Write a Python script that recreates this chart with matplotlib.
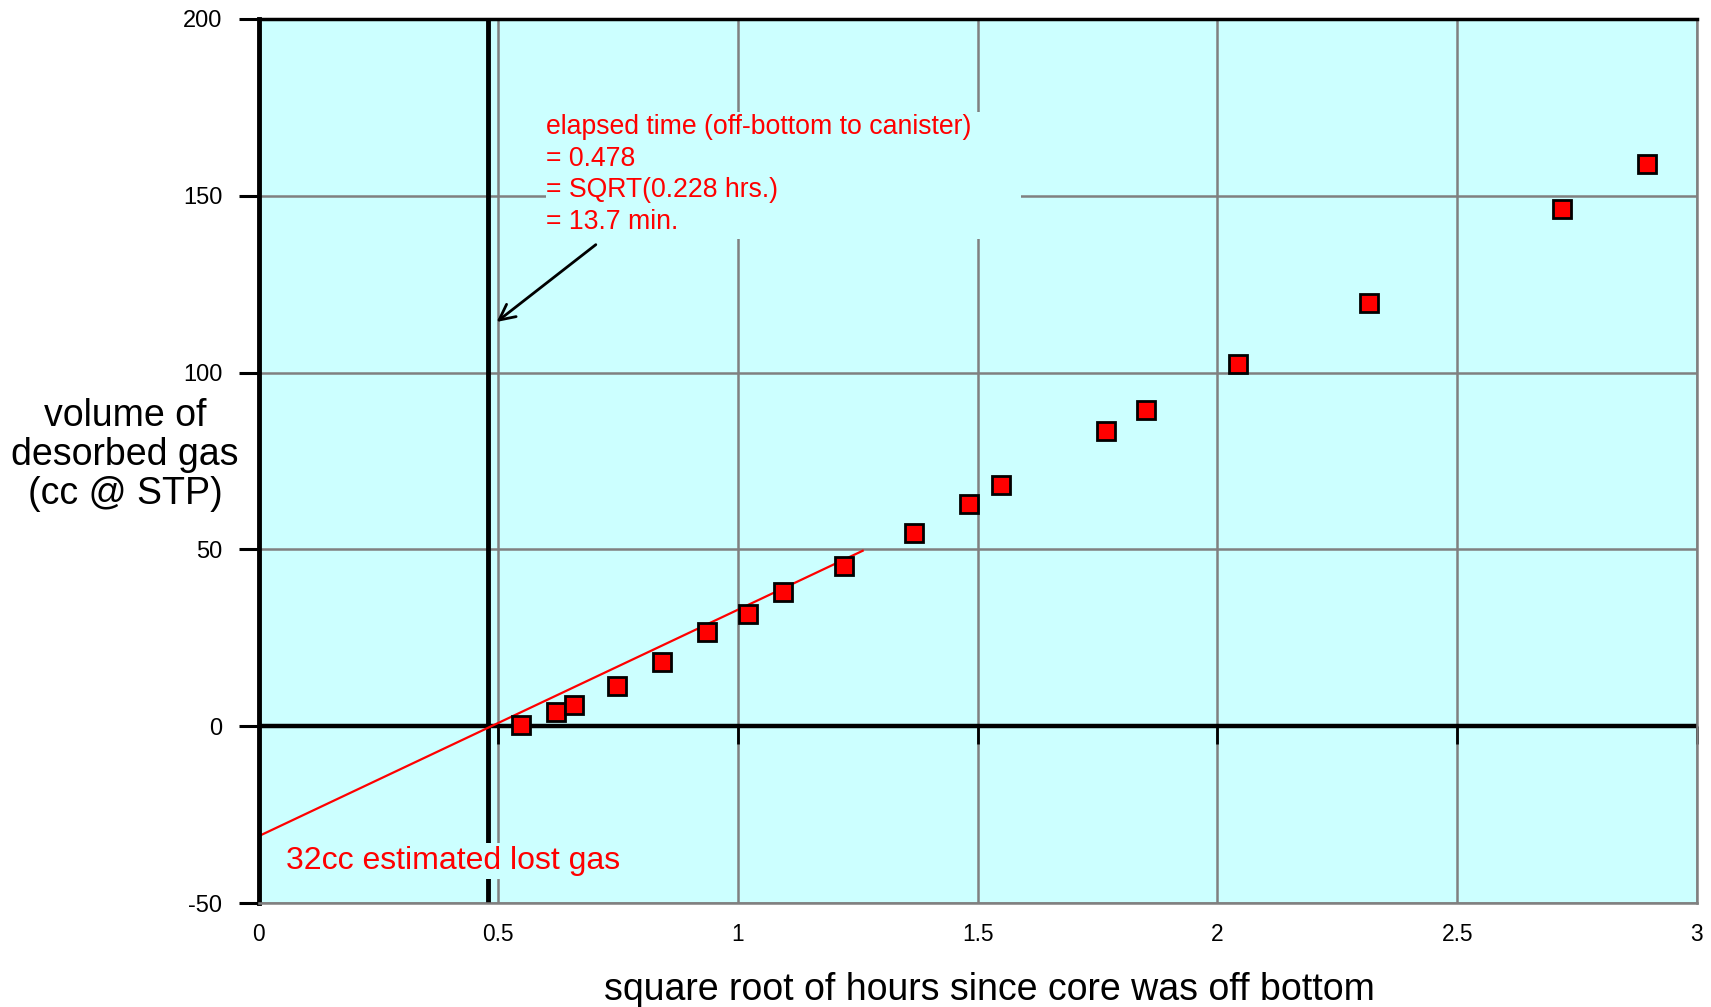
import matplotlib
matplotlib.use("Agg")
import matplotlib.pyplot as plt
from matplotlib.patches import Rectangle

# ---- data ----
sqrt_hours = [0.547, 0.620, 0.658, 0.747, 0.841, 0.936, 1.020, 1.093, 1.221,
              1.367, 1.481, 1.549, 1.768, 1.850, 2.043, 2.317, 2.718, 2.895]
volume_cc = [0.3, 4.0, 6.2, 11.4, 18.2, 26.6, 31.8, 38.0, 45.4,
             54.7, 62.8, 68.3, 83.5, 89.3, 102.3, 119.6, 146.2, 158.9]
fit_x = [0.0, 1.26]
fit_intercept = -31.0
fit_slope = 64.0
elapsed_sqrt = 0.478
x_ticks = [0, 0.5, 1, 1.5, 2, 2.5, 3]
x_tick_labels = ["0", "0.5", "1", "1.5", "2", "2.5", "3"]
y_ticks = [-50, 0, 50, 100, 150, 200]
y_tick_labels = ["-50", "0", "50", "100", "150", "200"]

plt.rcParams['font.family'] = ['Liberation Sans', 'DejaVu Sans']

CYAN = '#CCFFFF'
GRID = '#808080'

fig = plt.figure(figsize=(17.11, 10.07), dpi=100)
ax = fig.add_axes([0.1511, 0.1028, 0.9918 - 0.1511, 0.9816 - 0.1028])
ax.set_facecolor(CYAN)
ax.set_xlim(0, 3)
ax.set_ylim(-50, 200)

# grid
for xv in x_ticks:
    ax.axvline(xv, color=GRID, lw=1.8, zorder=1)
for yv in y_ticks:
    ax.axhline(yv, color=GRID, lw=1.8, zorder=1)

# zero line and its ticks
ax.axhline(0, color='black', lw=3.2, zorder=3)
ax.plot(x_ticks[1:], [0] * (len(x_ticks) - 1), ls='none', marker=3,
        ms=13, mew=2, color='black', zorder=3, clip_on=False)

# elapsed time line
ax.axvline(elapsed_sqrt, color='black', lw=3.5, zorder=3)

# fitted line
fit_y = [fit_intercept + fit_slope * v for v in fit_x]
ax.plot(fit_x, fit_y, color='red', lw=1.6, zorder=4)

# data points
ax.plot(sqrt_hours, volume_cc, ls='none', marker='s', ms=12.5,
        mfc='red', mec='black', mew=2.0, zorder=5)

# spines
ax.spines['left'].set_color('black'); ax.spines['left'].set_linewidth(3.5)
ax.spines['top'].set_color('black'); ax.spines['top'].set_linewidth(2.5)
for s in ['right', 'bottom']:
    ax.spines[s].set_color(GRID); ax.spines[s].set_linewidth(1.8)
for s in ax.spines.values():
    s.set_zorder(6)

ax.set_yticks(y_ticks)
ax.set_yticklabels(y_tick_labels)
ax.set_xticks(x_ticks)
ax.set_xticklabels(x_tick_labels)
ax.tick_params(axis='y', direction='out', length=14.5, width=2.2,
               pad=11.5, labelsize=17, color='black')
ax.tick_params(axis='x', length=0, pad=14, labelsize=16.4)

ax.set_xlabel("square root of hours since core was off bottom",
              fontsize=27, labelpad=19)
ax.xaxis.label.set_x(0.508)
fig.text(125 / 1711, 1 - 455 / 1007, "volume of\ndesorbed gas\n(cc @ STP)",
         ha='center', va='center', multialignment='center',
         fontsize=27, linespacing=1.1)

# annotation (text box background hides the grid behind it)
ax.add_patch(Rectangle((0.599, 137.8), 1.591 - 0.599, 173.5 - 137.8,
                       facecolor=CYAN, edgecolor='none', zorder=2))
ax.text(0.599, 173,
        "elapsed time (off-bottom to canister)\n= 0.478\n= SQRT(0.228 hrs.)\n= 13.7 min.",
        color='red', fontsize=19.2, ha='left', va='top', linespacing=1.28,
        zorder=7)
ax.annotate('', xy=(0.492, 113.8), xytext=(0.708, 136.6),
            arrowprops=dict(arrowstyle='->', lw=2, color='black',
                            mutation_scale=28), zorder=7)

ax.text(0.057, -38, "32cc estimated lost gas", color='red', fontsize=23,
        ha='left', va='center', zorder=7,
        bbox=dict(boxstyle='square,pad=0.1', fc=CYAN, ec='none'))

fig.savefig("out.png", dpi=100)
